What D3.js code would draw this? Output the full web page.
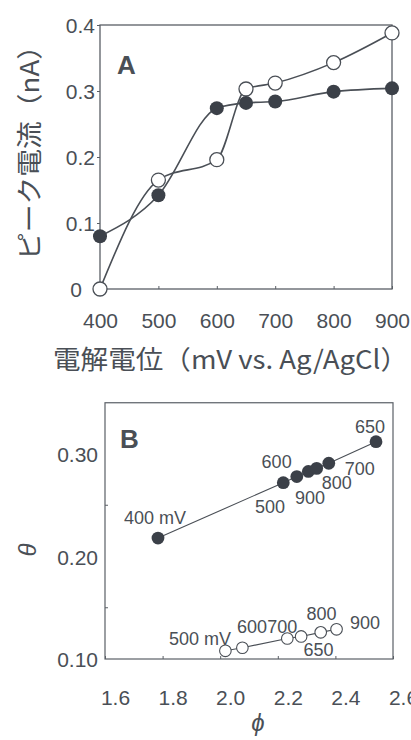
<!DOCTYPE html>
<html><head><meta charset="utf-8">
<script src="https://cdn.jsdelivr.net/npm/d3@7"></script>
<style>
html,body{margin:0;padding:0;background:#fff;}
svg{display:block;}
text{font-family:"Liberation Sans",Arial,sans-serif;fill:#4a4f56;}
.cjk{font-family:"Noto Sans CJK JP",sans-serif;}
</style></head><body>
<svg id="c" width="411" height="740"></svg>
<script>
// ---- Panel A data ----
const potentials = [400, 500, 600, 650, 700, 800, 900];
const currentFilled = [0.080, 0.142, 0.274, 0.282, 0.284, 0.299, 0.304];
const currentOpen   = [0.000, 0.165, 0.196, 0.303, 0.312, 0.343, 0.388];
const aXTicks = [400, 500, 600, 700, 800, 900];
const aYTicks = [0, 0.1, 0.2, 0.3, 0.4];
const aYLabels = ["0", "0.1", "0.2", "0.3", "0.4"];

// ---- Panel B data ----
const bFilledPhi   = [1.784, 2.219, 2.266, 2.306, 2.335, 2.377, 2.541];
const bFilledTheta = [0.218, 0.272, 0.278, 0.283, 0.286, 0.291, 0.312];
const bOpenPhi   = [2.018, 2.077, 2.233, 2.281, 2.349, 2.404];
const bOpenTheta = [0.108, 0.111, 0.120, 0.122, 0.126, 0.129];
const bXTicks = [1.6, 1.8, 2.0, 2.2, 2.4, 2.6];
const bYTicks = [0.10, 0.20, 0.30];
const bYMinor = [0.15, 0.25];
// annotation labels, anchored in data units (phi, theta)
const bLabelText  = ["400 mV", "600", "500", "900", "800", "700", "650",
                     "500 mV", "600700", "800", "900", "650"];
const bLabelPhi   = [1.774, 2.196, 2.173, 2.312, 2.405, 2.485, 2.520,
                     1.930, 2.163, 2.352, 2.503, 2.341];
const bLabelTheta = [0.2376, 0.2925, 0.2483, 0.258, 0.2717, 0.2863, 0.3266,
                     0.1202, 0.132, 0.1446, 0.1358, 0.1088];

const svg = d3.select("#c");
const ink = "#5a5f66", dark = "#3b4048";

// ===== Panel A =====
const ax = d3.scaleLinear().domain([400, 900]).range([100, 392]);
const ay = d3.scaleLinear().domain([0, 0.4]).range([289, 25]);
const gA = svg.append("g");
gA.append("rect").attr("x", ax(400)).attr("y", ay(0.4))
  .attr("width", ax(900) - ax(400)).attr("height", ay(0) - ay(0.4))
  .attr("fill", "none").attr("stroke", ink).attr("stroke-width", 1.3);
const axB = gA.append("g").attr("transform", `translate(0,${ay(0)})`)
  .call(d3.axisBottom(ax).tickValues(aXTicks).tickSize(-3).tickPadding(28).tickFormat(d3.format("d")));
const axL = gA.append("g").attr("transform", `translate(${ax(400)},0)`)
  .call(d3.axisLeft(ay).tickValues(aYTicks).tickSize(3).tickPadding(2).tickFormat((d, i) => aYLabels[i]));
[axB, axL].forEach(g => {
  g.select(".domain").remove();
  g.selectAll("line").attr("stroke", ink);
  g.selectAll("text").style("font-size", "21px").attr("fill", "#4a4f56");
});
axB.selectAll("text").attr("dy", "0.5em");
axL.selectAll("text").attr("dy", "0.36em").attr("dx", d => d === 0 ? -13 : 0);

const lineA = d3.line().x((d, i) => ax(potentials[i])).y(d => ay(d)).curve(d3.curveMonotoneX);
[currentOpen, currentFilled].forEach(s => {
  gA.append("path").attr("d", lineA(s)).attr("fill", "none")
    .attr("stroke", "#4a4f56").attr("stroke-width", 1.6);
});
gA.selectAll("circle.o").data(currentOpen).enter().append("circle")
  .attr("cx", (d, i) => ax(potentials[i])).attr("cy", d => ay(d)).attr("r", 7)
  .attr("fill", "#fff").attr("stroke", "#4a4f56").attr("stroke-width", 1.3);
gA.selectAll("circle.f").data(currentFilled).enter().append("circle")
  .attr("cx", (d, i) => ax(potentials[i])).attr("cy", d => ay(d)).attr("r", 7)
  .attr("fill", dark);
gA.append("text").attr("x", 117).attr("y", 74).text("A")
  .style("font-size", "26px").style("font-weight", "bold").attr("fill", "#3f444b");
gA.append("text").attr("class", "cjk")
  .attr("transform", "translate(39,146) rotate(-90)")
  .attr("text-anchor", "middle").style("font-size", "26px").attr("fill", "#4a4f56")
  .attr("textLength", 228).attr("lengthAdjust", "spacingAndGlyphs")
  .text("ピーク電流（nA）");
gA.append("text").attr("class", "cjk").attr("x", 230.5).attr("y", 369)
  .attr("text-anchor", "middle").style("font-size", "26px").attr("fill", "#4a4f56")
  .attr("textLength", 355).attr("lengthAdjust", "spacingAndGlyphs")
  .text("電解電位（mV vs. Ag/AgCl）");

// ===== Panel B =====
const bx = d3.scaleLinear().domain([1.6, 2.6]).range([105, 393]);
const by = d3.scaleLinear().domain([0.10, 0.35]).range([659, 402.75]);
const gB = svg.append("g");
gB.append("rect").attr("x", bx(1.6)).attr("y", by(0.35))
  .attr("width", bx(2.6) - bx(1.6)).attr("height", by(0.10) - by(0.35))
  .attr("fill", "none").attr("stroke", ink).attr("stroke-width", 1.2);
const bxA = gB.append("g").attr("transform", `translate(0,${by(0.10)})`)
  .call(d3.axisBottom(bx).tickValues(bXTicks).tickSize(-3).tickPadding(35).tickFormat(d3.format(".1f")));
const byA = gB.append("g").attr("transform", `translate(${bx(1.6)},0)`)
  .call(d3.axisLeft(by).tickValues(bYTicks).tickSize(0).tickPadding(7).tickFormat(d3.format(".2f")));
gB.selectAll("line.minor").data(bYMinor).enter().append("line")
  .attr("x1", bx(1.6)).attr("x2", bx(1.6) + 3).attr("y1", d => by(d)).attr("y2", d => by(d))
  .attr("stroke", ink);
[bxA, byA].forEach(g => {
  g.select(".domain").remove();
  g.selectAll("line").attr("stroke", ink);
  g.selectAll("text").style("font-size", "21px").attr("fill", "#4a4f56");
});
bxA.selectAll("text").attr("dx", 10).attr("dy", "0.5em");
byA.selectAll("text").attr("dy", "0.36em");

const lineB = d3.line().x(d => bx(d[0])).y(d => by(d[1]));
gB.append("path").attr("d", lineB(d3.zip(bFilledPhi, bFilledTheta)))
  .attr("fill", "none").attr("stroke", "#4a4f56").attr("stroke-width", 1.1);
gB.append("path").attr("d", lineB(d3.zip(bOpenPhi, bOpenTheta)))
  .attr("fill", "none").attr("stroke", "#4a4f56").attr("stroke-width", 1.1);
gB.selectAll("circle.bo").data(d3.zip(bOpenPhi, bOpenTheta)).enter().append("circle")
  .attr("cx", d => bx(d[0])).attr("cy", d => by(d[1])).attr("r", 5.8)
  .attr("fill", "#fff").attr("stroke", "#4a4f56").attr("stroke-width", 1.1);
gB.selectAll("circle.bf").data(d3.zip(bFilledPhi, bFilledTheta)).enter().append("circle")
  .attr("cx", d => bx(d[0])).attr("cy", d => by(d[1])).attr("r", 6.4)
  .attr("fill", dark);
gB.selectAll("text.lab").data(bLabelText).enter().append("text")
  .attr("x", (d, i) => bx(bLabelPhi[i])).attr("y", (d, i) => by(bLabelTheta[i]))
  .attr("text-anchor", "middle").attr("dy", "0.36em")
  .style("font-size", "18px").attr("fill", "#4a4f56").text(d => d);
gB.append("text").attr("x", 120).attr("y", 448).text("B")
  .style("font-size", "26px").style("font-weight", "bold").attr("fill", "#3f444b");
gB.append("text").attr("transform", "translate(36,550) rotate(-90)")
  .attr("text-anchor", "middle").style("font-size", "24px").style("font-style", "italic")
  .attr("fill", "#4a4f56").attr("font-family", "DejaVu Serif").text("θ");
gB.append("text").attr("x", 258).attr("y", 731)
  .attr("text-anchor", "middle").style("font-size", "24px").style("font-style", "italic")
  .attr("fill", "#4a4f56").attr("font-family", "DejaVu Serif").text("ϕ");
</script></body></html>
